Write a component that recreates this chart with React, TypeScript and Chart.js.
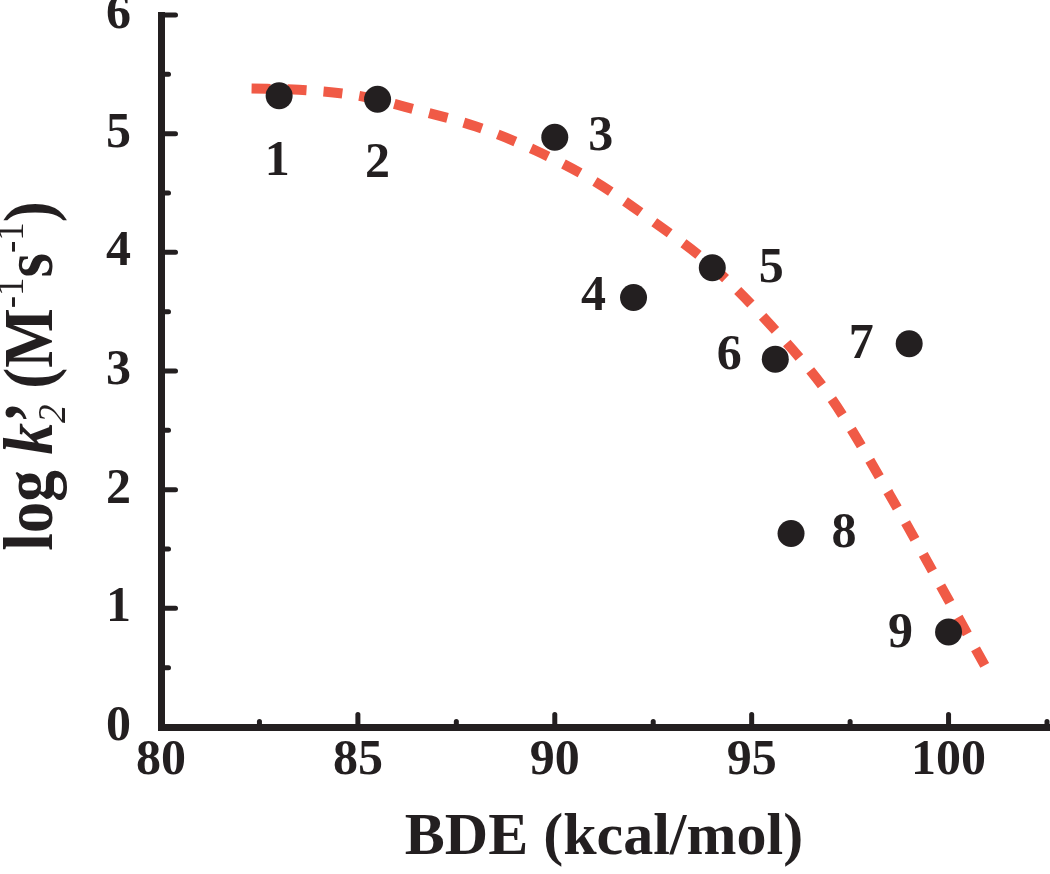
import React, { useEffect, useRef } from 'react';
import { Chart, registerables } from 'chart.js';

Chart.register(...registerables);

// ---- data ----
const compoundLabels = ['1', '2', '3', '4', '5', '6', '7', '8', '9'];
const bdeValues = [83.0, 85.5, 90.0, 92.0, 94.0, 95.6, 99.0, 96.0, 100.0];
const logK2Values = [5.32, 5.29, 4.97, 3.62, 3.87, 3.1, 3.23, 1.63, 0.8];

const fitBde = [82.3, 83.5, 85.0, 86.5, 88.0, 89.5, 91.0, 92.5, 94.0, 95.5, 97.0, 98.5, 100.0, 101.0];
const fitLogK2 = [5.38, 5.37, 5.32, 5.2, 5.06, 4.86, 4.6, 4.26, 3.88, 3.38, 2.78, 1.96, 1.07, 0.47];

const xTickLabels = [80, 85, 90, 95, 100];
const xMinorTicks = [82.5, 87.5, 92.5, 97.5, 102.5];
const yTickLabels = [0, 1, 2, 3, 4, 5, 6];
const yMinorTicks = [0.5, 1.5, 2.5, 3.5, 4.5, 5.5];

const xTitle = 'BDE (kcal/mol)';

// ---- styling ----
const FONT = '"Liberation Serif", "Times New Roman", serif';
const INK = '#231F20';
const RED = '#F05A46';
const AXIS_W = 7;
// label placement relative to its point (px)
const labelOffsets = [
  [-2, 66], [0, 65], [46, 0], [-40, 0], [59, 1], [-46, -3], [-48, 1], [53, 1], [-48, 2],
];

export default function App() {
  const ref = useRef<HTMLCanvasElement>(null);

  useEffect(() => {
    document.body.style.margin = '0';
    const canvas = ref.current;
    if (!canvas) return;

    const innerTicks = {
      id: 'innerTicks',
      afterDraw(chart: any) {
        const { ctx, scales } = chart;
        const xs = scales.x;
        const ys = scales.y;
        const ca = chart.chartArea;
        ctx.save();
        ctx.strokeStyle = INK;
        ctx.lineWidth = 5;
        ctx.lineCap = 'round';
        const edgeY = ca.bottom - AXIS_W / 2;
        const edgeX = ca.left + AXIS_W / 2;
        const drawX = (v: number, len: number) => {
          const px = xs.getPixelForValue(v);
          ctx.beginPath();
          ctx.moveTo(px, edgeY);
          ctx.lineTo(px, edgeY - len);
          ctx.stroke();
        };
        const drawY = (v: number, len: number) => {
          const py = ys.getPixelForValue(v);
          ctx.beginPath();
          ctx.moveTo(edgeX, py);
          ctx.lineTo(edgeX + len, py);
          ctx.stroke();
        };
        xTickLabels.forEach((v) => { if (v !== xs.min) drawX(v, 9); });
        xMinorTicks.forEach((v) => drawX(v, 2));
        yTickLabels.forEach((v) => { if (v !== ys.min) drawY(v, 11); });
        yMinorTicks.forEach((v) => drawY(v, 4));
        ctx.restore();
      },
    };

    const pointLabels = {
      id: 'pointLabels',
      afterDatasetsDraw(chart: any) {
        const { ctx } = chart;
        const meta = chart.getDatasetMeta(0);
        ctx.save();
        ctx.fillStyle = INK;
        ctx.font = `bold 50px ${FONT}`;
        ctx.textAlign = 'center';
        ctx.textBaseline = 'middle';
        meta.data.forEach((el: any, i: number) => {
          const [dx, dy] = labelOffsets[i];
          ctx.fillText(compoundLabels[i], el.x + dx, el.y + dy);
        });
        ctx.restore();
      },
    };

    const yTitle = {
      id: 'yTitle',
      afterDraw(chart: any) {
        const { ctx } = chart;
        const ca = chart.chartArea;
        const big = 63;
        const small = 37;
        const segs: { t: string; f: string; dy: number; back?: boolean }[] = [
          { t: 'log ', f: `bold ${big}px ${FONT}`, dy: 0 },
          { t: 'k', f: `italic bold ${big}px ${FONT}`, dy: 0 },
          { t: '\u2019', f: `bold ${big}px ${FONT}`, dy: 0, back: true },
          { t: '2', f: `italic ${small}px ${FONT}`, dy: 12 },
          { t: ' (M', f: `bold ${big}px ${FONT}`, dy: 0 },
          { t: '-1', f: `${small}px ${FONT}`, dy: -26 },
          { t: 's', f: `bold ${big}px ${FONT}`, dy: 0 },
          { t: '-1', f: `${small}px ${FONT}`, dy: -26 },
          { t: ')', f: `bold ${big}px ${FONT}`, dy: 0 },
        ];
        ctx.save();
        let total = 0;
        const widths: number[] = [];
        segs.forEach((s) => {
          ctx.font = s.f;
          const w = ctx.measureText(s.t).width;
          widths.push(w);
          if (!s.back) total += w;
        });
        ctx.translate(52, (ca.top + ca.bottom) / 2 + 5);
        ctx.rotate(-Math.PI / 2);
        ctx.scale(1, 1.1);
        ctx.fillStyle = INK;
        ctx.textBaseline = 'alphabetic';
        ctx.textAlign = 'left';
        let x = -total / 2;
        segs.forEach((s, i) => {
          ctx.font = s.f;
          ctx.fillText(s.t, x, s.dy);
          if (!s.back) x += widths[i];
        });
        ctx.restore();
      },
    };

    const chart = new Chart(canvas, {
      type: 'scatter',
      data: {
        datasets: [
          {
            type: 'scatter',
            label: 'compounds',
            data: bdeValues.map((x, i) => ({ x, y: logK2Values[i] })),
            backgroundColor: INK,
            borderColor: INK,
            pointRadius: 13.5,
            pointHoverRadius: 13.5,
            borderWidth: 0,
            order: 0,
          },
          {
            type: 'line',
            label: 'fit',
            data: fitBde.map((x, i) => ({ x, y: fitLogK2[i] })),
            borderColor: RED,
            borderWidth: 10,
            borderDash: [19, 17],
            borderCapStyle: 'butt',
            cubicInterpolationMode: 'monotone',
            pointRadius: 0,
            fill: false,
            order: 1,
          } as any,
        ],
      },
      options: {
        animation: false,
        responsive: false,
        devicePixelRatio: 1,
        events: [],
        layout: { autoPadding: false, padding: { top: 15, right: 3, left: 0, bottom: 0 } },
        plugins: { legend: { display: false }, tooltip: { enabled: false } },
        scales: {
          x: {
            type: 'linear',
            min: 80,
            max: 102.5,
            border: { display: true, width: AXIS_W, color: INK },
            grid: { display: true, drawOnChartArea: false, drawTicks: false, lineWidth: AXIS_W, color: INK },
            afterBuildTicks: (s: any) => {
              s.ticks = xTickLabels.map((v) => ({ value: v }));
            },
            ticks: {
              padding: 4,
              color: INK,
              autoSkip: false,
              maxRotation: 0,
              font: { family: FONT, size: 50, weight: 'bold' },
            },
            title: {
              display: true,
              text: xTitle,
              color: INK,
              font: { family: FONT, size: 60, weight: 'bold' },
              padding: { top: 0, bottom: 0 },
            },
            afterFit: (s: any) => {
              s.height = 147;
              s.paddingLeft = 0;
              s.paddingRight = 0;
            },
          },
          y: {
            type: 'linear',
            min: 0,
            max: 6,
            border: { display: true, width: AXIS_W, color: INK },
            grid: { display: true, drawOnChartArea: false, drawTicks: false, lineWidth: AXIS_W, color: INK },
            afterBuildTicks: (s: any) => {
              s.ticks = yTickLabels.map((v) => ({ value: v }));
            },
            ticks: {
              padding: 30,
              color: INK,
              autoSkip: false,
              font: { family: FONT, size: 50, weight: 'bold' },
            },
            afterFit: (s: any) => {
              s.width = 161;
              s.paddingTop = 0;
              s.paddingBottom = 0;
            },
          },
        },
      } as any,
      plugins: [innerTicks, pointLabels, yTitle],
    });

    return () => chart.destroy();
  }, []);

  return (
    <div style={{ width: 1050, height: 874, background: '#fff' }}>
      <canvas ref={ref} width={1050} height={874} style={{ display: 'block' }} />
    </div>
  );
}
